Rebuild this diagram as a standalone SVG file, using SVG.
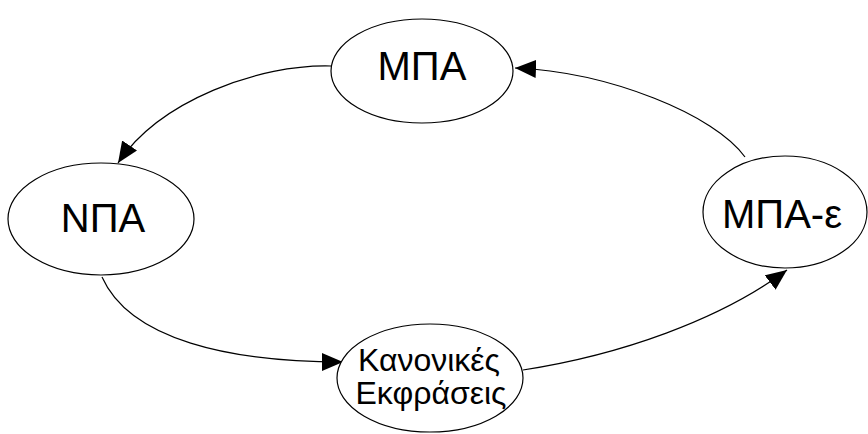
<svg xmlns="http://www.w3.org/2000/svg" width="868" height="434" viewBox="0 0 868 434">
  <style>
    .node ellipse { fill: #ffffff; stroke: #000000; stroke-width: 1.2; }
    .node text { font-family: "Liberation Sans", Arial, sans-serif; fill: #000000; text-anchor: middle; }
    .big { font-size: 40px; }
    .small { font-size: 32px; }
    .edge { fill: none; stroke: #000000; stroke-width: 1.2; marker-end: url(#arrow); }
  </style>
  <defs>
    <marker id="arrow" markerUnits="userSpaceOnUse" markerWidth="24" markerHeight="20" refX="21" refY="9" orient="auto">
      <path d="M0,0 L21,9 L0,18 Z" fill="#000000"/>
    </marker>
  </defs>
  <rect width="868" height="434" fill="#ffffff"/>

  <g id="connectors">
    <path class="edge" d="M331,66 C260,64 160,100 118,163"/>
    <path class="edge" d="M745,157 C715,115 610,72 515,68"/>
    <path class="edge" d="M102,277 C130,340 230,362 343,362"/>
    <path class="edge" d="M523,370 C620,355 720,320 787,270"/>
  </g>

  <g id="mpa" class="node">
    <ellipse cx="422" cy="71" rx="91" ry="52"/>
    <text class="big" x="422" y="80">ΜΠΑ</text>
  </g>

  <g id="npa" class="node">
    <ellipse cx="101" cy="219" rx="93" ry="56"/>
    <text class="big" x="103" y="232">ΝΠΑ</text>
  </g>

  <g id="mpa-e" class="node">
    <ellipse cx="785" cy="212" rx="82" ry="56"/>
    <text class="big" x="782" y="228">ΜΠΑ-ε</text>
  </g>

  <g id="regex" class="node">
    <ellipse cx="430" cy="378" rx="93" ry="54"/>
    <text class="small" x="429" y="371">Κανονικές</text>
    <text class="small" x="431" y="404">Εκφράσεις</text>
  </g>
</svg>
